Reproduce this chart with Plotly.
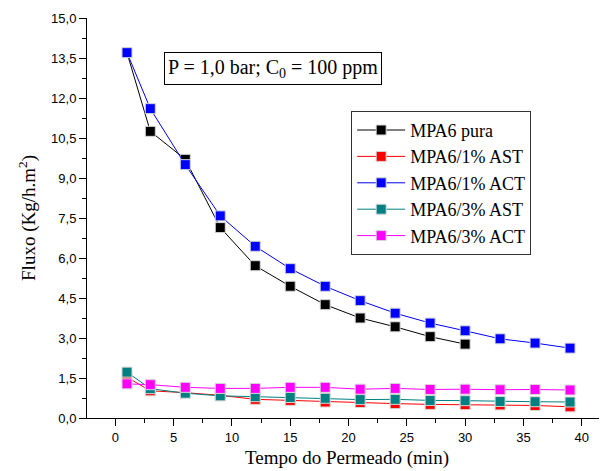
import plotly.graph_objects as go

# tempo do permeado (min)
t_pura = [1, 3, 6, 9, 12, 15, 18, 21, 24, 27, 30]
t_all = [1, 3, 6, 9, 12, 15, 18, 21, 24, 27, 30, 33, 36, 39]

# fluxo (Kg/h.m2)
mpa6_pura = [13.7, 10.75, 9.7, 7.14, 5.71, 4.94, 4.25, 3.75, 3.42, 3.05, 2.77]
mpa6_1_ast = [1.53, 1.02, 0.95, 0.85, 0.70, 0.66, 0.60, 0.58, 0.54, 0.51, 0.50, 0.49, 0.47, 0.42]
mpa6_1_act = [13.7, 11.6, 9.5, 7.58, 6.44, 5.60, 4.94, 4.40, 3.93, 3.56, 3.27, 2.97, 2.81, 2.62]
mpa6_3_ast = [1.72, 1.10, 0.93, 0.83, 0.80, 0.77, 0.74, 0.69, 0.70, 0.66, 0.65, 0.62, 0.61, 0.60]
mpa6_3_act = [1.28, 1.25, 1.15, 1.11, 1.11, 1.15, 1.15, 1.08, 1.11, 1.07, 1.08, 1.06, 1.07, 1.05]

series = [
    ("MPA6 pura", t_pura, mpa6_pura, "#000000"),
    ("MPA6/1% AST", t_all, mpa6_1_ast, "#ff0000"),
    ("MPA6/1% ACT", t_all, mpa6_1_act, "#0000ff"),
    ("MPA6/3% AST", t_all, mpa6_3_ast, "#008080"),
    ("MPA6/3% ACT", t_all, mpa6_3_act, "#ff00ff"),
]

serif = "Liberation Serif"
sans = "Liberation Sans"

fig = go.Figure()
for name, x, y, c in series:
    fig.add_trace(go.Scatter(
        x=x, y=y, name=name, mode="lines+markers",
        line=dict(color=c, width=1),
        marker=dict(symbol="square", size=10, color=c,
                    line=dict(color="#d8d8d8", width=1)),
    ))

fig.add_annotation(
    x=0.358, y=0.874, xref="paper", yref="paper",
    xanchor="center", yanchor="middle",
    text="P = 1,0 bar; C<sub>0</sub> = 100 ppm", showarrow=False,
    font=dict(family=serif, size=20, color="black"),
    bordercolor="black", borderwidth=1, borderpad=3, bgcolor="white",
)

# page body has an 8px margin, so the figure is drawn 8px smaller
fig.update_layout(
    width=599, height=463,
    margin=dict(l=79, r=0, t=10, b=53),
    plot_bgcolor="white", paper_bgcolor="white",
    font=dict(family=serif, size=18, color="black"),
    separators=",.",
    showlegend=True,
    legend=dict(
        x=0.508, y=0.768, xanchor="left", yanchor="top",
        bordercolor="#333333", borderwidth=1, bgcolor="white",
        font=dict(family=serif, size=18, color="black"),
        itemwidth=48, tracegroupgap=0,
    ),
    xaxis=dict(
        range=[-2.43, 42.17], dtick=5, tick0=0,
        showline=True, linecolor="black", linewidth=1,
        ticks="outside", ticklen=7, tickcolor="black",
        minor=dict(dtick=2.5, ticks="outside", ticklen=4, tickcolor="black"),
        showgrid=False, zeroline=False,
        tickfont=dict(family=sans, size=13, color="black"),
        title=dict(text="Tempo do Permeado (min)", standoff=7,
                   font=dict(family=serif, size=19, color="black")),
    ),
    yaxis=dict(
        range=[0, 15], dtick=1.5, tick0=0, tickformat=".1f",
        showline=True, linecolor="black", linewidth=1,
        ticks="outside", ticklen=7, tickcolor="black",
        minor=dict(dtick=0.75, ticks="outside", ticklen=4, tickcolor="black"),
        showgrid=False, zeroline=False,
        tickfont=dict(family=sans, size=13, color="black"),
        title=dict(text="Fluxo (Kg/h.m<sup>2</sup>)", standoff=10,
                   font=dict(family=serif, size=19, color="black")),
    ),
)

fig.write_html("out.html")
